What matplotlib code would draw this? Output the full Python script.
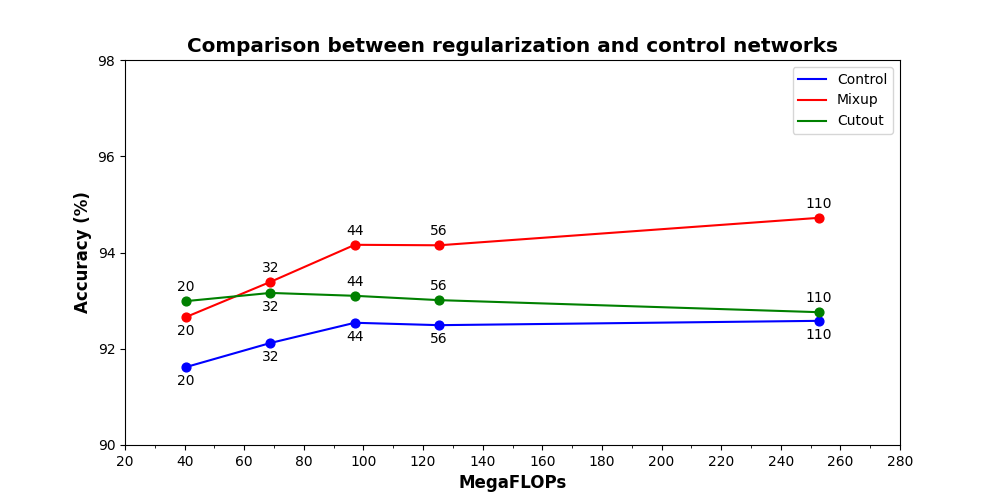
import matplotlib
matplotlib.use('Agg')
import matplotlib.pyplot as plt
from matplotlib.ticker import MultipleLocator

flops = [40.5, 68.8, 97.1, 125.4, 252.7]
depths = ['20', '32', '44', '56', '110']

control = [91.62, 92.12, 92.54, 92.49, 92.58]
mixup = [92.66, 93.39, 94.16, 94.15, 94.72]
cutout = [92.99, 93.16, 93.10, 93.01, 92.76]

# label side per point: +1 above, -1 below
control_side = [-1, -1, -1, -1, -1]
mixup_side = [-1, 1, 1, 1, 1]
cutout_side = [1, -1, 1, 1, 1]

fig = plt.figure(figsize=(10, 5), dpi=100)
ax = fig.add_subplot(1, 1, 1)

for vals, sides, col, name in [(control, control_side, 'blue', 'Control'),
                               (mixup, mixup_side, 'red', 'Mixup'),
                               (cutout, cutout_side, 'green', 'Cutout')]:
	ax.plot(flops, vals, color=col, label=name)
	ax.scatter(flops, vals, color=col, s=40, zorder=3)
	for x, y, d, s in zip(flops, vals, depths, sides):
		ax.annotate(d, (x, y), xytext=(0, 14 * s), textcoords='offset pixels',
			ha='center', va='center', fontsize=10)

ax.set_xlim(20, 280)
ax.set_ylim(90, 98)
ax.xaxis.set_major_locator(MultipleLocator(20))
ax.xaxis.set_minor_locator(MultipleLocator(10))
ax.yaxis.set_major_locator(MultipleLocator(2))
ax.set_xlabel('MegaFLOPs', fontsize=12, fontweight='bold')
ax.set_ylabel('Accuracy (%)', fontsize=12, fontweight='bold')
ax.set_title('Comparison between regularization and control networks', fontsize=14.4, fontweight='bold')
ax.legend(loc='upper right')

fig.savefig('out.png')
